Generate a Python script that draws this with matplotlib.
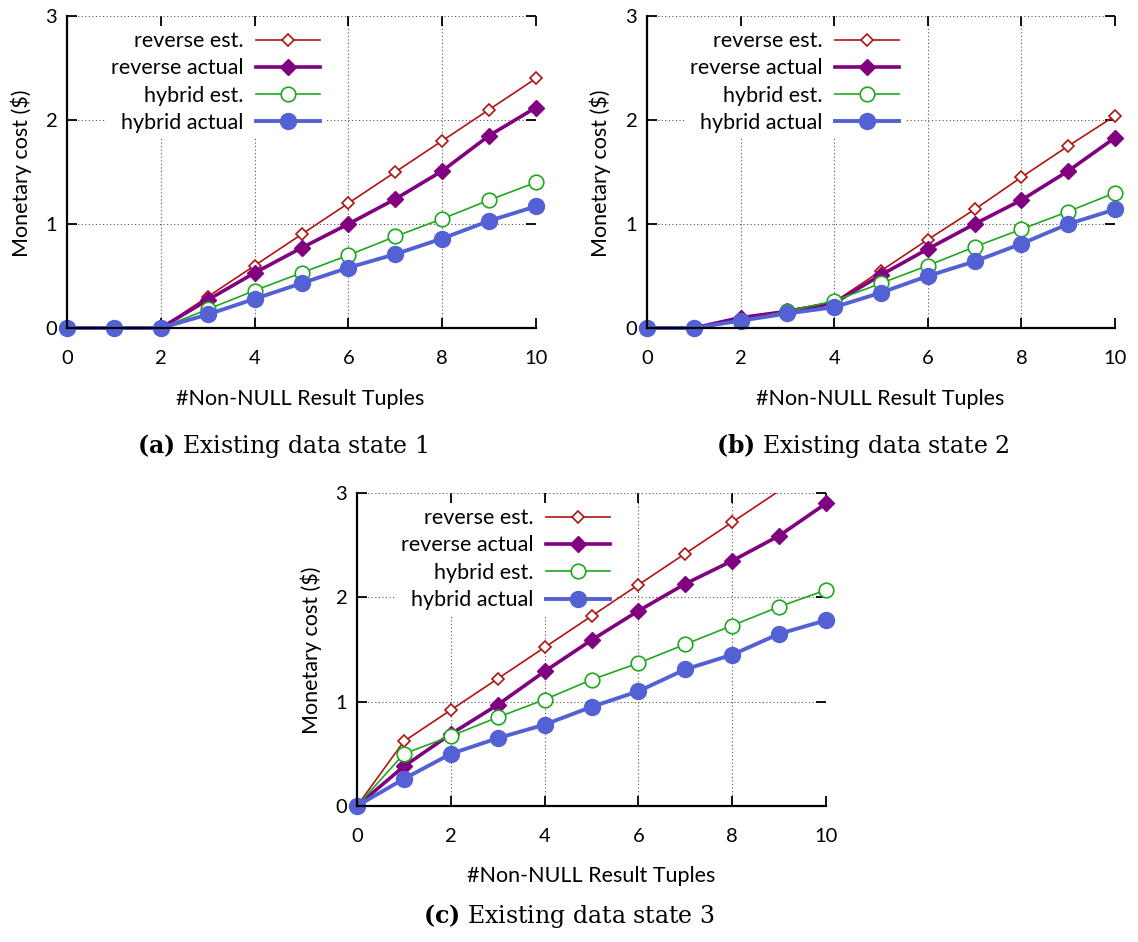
import matplotlib
matplotlib.use('Agg')
import matplotlib.pyplot as plt
from matplotlib.transforms import Bbox, TransformedBbox

plt.rcParams['font.family'] = ['Lato', 'DejaVu Sans']
plt.rcParams['mathtext.fontset'] = 'dejavuserif'

x = [0, 1, 2, 3, 4, 5, 6, 7, 8, 9, 10]

# state 1
rev_est_1 = [0, 0, 0, 0.30, 0.60, 0.90, 1.20, 1.50, 1.80, 2.10, 2.40]
rev_act_1 = [0, 0, 0, 0.27, 0.53, 0.77, 1.00, 1.24, 1.51, 1.85, 2.12]
hyb_est_1 = [0, 0, 0, 0.18, 0.36, 0.53, 0.70, 0.88, 1.05, 1.23, 1.40]
hyb_act_1 = [0, 0, 0, 0.13, 0.28, 0.43, 0.58, 0.71, 0.86, 1.03, 1.17]

# state 2
rev_est_2 = [0, 0, 0.09, 0.17, 0.25, 0.55, 0.85, 1.14, 1.45, 1.75, 2.04]
rev_act_2 = [0, 0, 0.10, 0.16, 0.24, 0.51, 0.76, 1.00, 1.23, 1.51, 1.83]
hyb_est_2 = [0, 0, 0.07, 0.16, 0.26, 0.43, 0.60, 0.78, 0.95, 1.12, 1.30]
hyb_act_2 = [0, 0, 0.07, 0.14, 0.20, 0.34, 0.50, 0.64, 0.81, 1.00, 1.14]

# state 3
rev_est_3 = [0, 0.62, 0.92, 1.22, 1.52, 1.82, 2.12, 2.42, 2.72, 3.02, 3.32]
rev_act_3 = [0, 0.38, 0.69, 0.97, 1.29, 1.59, 1.87, 2.13, 2.35, 2.59, 2.90]
hyb_est_3 = [0, 0.50, 0.67, 0.85, 1.02, 1.21, 1.37, 1.55, 1.73, 1.91, 2.07]
hyb_act_3 = [0, 0.26, 0.50, 0.65, 0.78, 0.95, 1.10, 1.31, 1.45, 1.65, 1.78]

labels = ['reverse est.', 'reverse actual', 'hybrid est.', 'hybrid actual']
captions = ['(a)', '(b)', '(c)']
caption_texts = ['Existing data state 1', 'Existing data state 2', 'Existing data state 3']

styles = [
    dict(color='#B01414', lw=1.2, marker='D', ms=6.5, mfc='white', mew=1.2),
    dict(color='#800080', lw=2.6, marker='D', ms=7.8, mfc='#800080', mew=1.0),
    dict(color='#1FA81F', lw=1.2, marker='o', ms=10.5, mfc='white', mew=1.2),
    dict(color='#5361D4', lw=2.8, marker='o', ms=11.5, mfc='#5361D4', mew=1.0),
]

W, H = 1138, 942
fig = plt.figure(figsize=(W / 100, H / 100), dpi=100)


def px(l, t, r, b):
    return [l / W, 1 - b / H, (r - l) / W, (b - t) / H]


def panel(rect, series, ylab_xy, xlab_xy, cap_xy, cap, cap_text):
    ax = fig.add_axes(px(*rect))
    ax.set_xlim(0, 10)
    ax.set_ylim(0, 3)
    ax.set_xticks([0, 2, 4, 6, 8, 10])
    ax.set_yticks([0, 1, 2, 3])
    ax.set_axisbelow(True)
    ax.grid(True, color='#555555', linestyle=(0, (1, 2.2)), linewidth=0.8)
    clip = TransformedBbox(Bbox([[-0.06, -0.06], [1.06, 1.0]]), ax.transAxes)
    for ys, st, lab in zip(series, styles, labels):
        mask = [v <= 3 for v in ys]
        line, = ax.plot(x, ys, label=lab, markevery=mask, mec=st['color'], **st)
        line.set_clip_box(clip)
    for s in ['top', 'right']:
        ax.spines[s].set_visible(False)
    for s in ['left', 'bottom']:
        ax.spines[s].set_linewidth(1.6)
    ax.tick_params(direction='in', length=7, width=1.3, top=True, right=True,
                   labelsize=14.5)
    ax.tick_params(axis='x', pad=16)
    ax.tick_params(axis='y', pad=7)
    leg = ax.legend(loc='upper right', bbox_to_anchor=(0.551, 0.969),
                    markerfirst=False, fontsize=15.5, frameon=True,
                    facecolor='white', edgecolor='none', framealpha=1,
                    fancybox=False, borderpad=0.25, handlelength=2.98,
                    handletextpad=0.59, labelspacing=0.34, borderaxespad=0)
    # key box hides the grid, data lines stay on top of it
    leg.set_zorder(1)
    fig.text(ylab_xy[0] / W, 1 - ylab_xy[1] / H, r'Monetary cost (\$)',
             rotation=90, ha='center', va='center', fontsize=15.5)
    fig.text(xlab_xy[0] / W, 1 - xlab_xy[1] / H, '#Non-NULL Result Tuples',
             ha='center', va='center', fontsize=15.5)
    fig.text(cap_xy[0] / W, 1 - cap_xy[1] / H,
             r'$\mathbf{' + cap + '}$ ' + cap_text,
             ha='center', va='center', fontsize=17, family='DejaVu Serif')
    return ax


panel((67, 16, 536, 328), [rev_est_1, rev_act_1, hyb_est_1, hyb_act_1],
      (21, 173), (300, 399), (283, 446), captions[0], caption_texts[0])
panel((647, 16, 1115, 328), [rev_est_2, rev_act_2, hyb_est_2, hyb_act_2],
      (600, 173), (880, 399), (863, 446), captions[1], caption_texts[1])
panel((357, 493, 826, 806), [rev_est_3, rev_act_3, hyb_est_3, hyb_act_3],
      (311, 650), (591, 876), (569, 916), captions[2], caption_texts[2])

fig.savefig('out.png', dpi=100)
